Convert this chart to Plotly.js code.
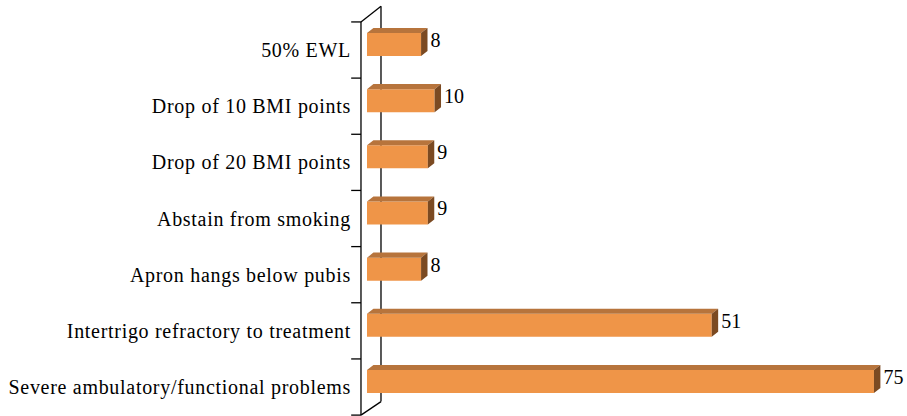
<!DOCTYPE html>
<html>
<head>
<meta charset="utf-8">
<script src="https://cdn.plot.ly/plotly-3.0.1.min.js"></script>
<style>html,body{margin:0;padding:0;background:#fff;}#chart{width:907px;height:416px;}
.ytick text{letter-spacing:0.7px;}</style>
</head>
<body>
<div id="chart"></div>
<script>
// Data (bottom to top)
const categories = [
  "Severe ambulatory/functional problems",
  "Intertrigo refractory to treatment",
  "Apron hangs below pubis",
  "Abstain from smoking",
  "Drop of 20 BMI points",
  "Drop of 10 BMI points",
  "50% EWL"
];
const values = [75, 51, 8, 9, 9, 10, 8];

// Styling / geometry
const FRONT = '#EF9548', TOP = '#B7743C', SIDE = '#7B4A22';
const FONT = 'Liberation Serif, Times New Roman, serif';
const BAR_W = 0.41, BAR_SHIFT = 0.098, DX = 0.95, DY = 0.09, LABEL_GAP = 0.45;
const XR = [-2.219, 79.59], YR = [-0.516, 6.855];

const idx = categories.map((_, i) => i);

const bars = {
  type: 'bar', orientation: 'h', x: values, y: idx,
  width: BAR_W, offset: -BAR_W / 2 + BAR_SHIFT,
  marker: {color: FRONT, line: {width: 0}},
  hoverinfo: 'skip', showlegend: false
};

const topX = [], topY = [], sideX = [], sideY = [];
values.forEach((v, i) => {
  const yb = i + BAR_SHIFT - BAR_W / 2, yt = i + BAR_SHIFT + BAR_W / 2;
  topX.push(0, v, v + DX, DX, 0, null);
  topY.push(yt, yt, yt + DY, yt + DY, yt, null);
  sideX.push(v, v, v + DX, v + DX, v, null);
  sideY.push(yb, yt, yt + DY, yb + DY, yb, null);
});

const topFaces = {type: 'scatter', mode: 'lines', x: topX, y: topY, fill: 'toself',
  fillcolor: TOP, line: {width: 0, color: TOP}, hoverinfo: 'skip', showlegend: false};
const sideFaces = {type: 'scatter', mode: 'lines', x: sideX, y: sideY, fill: 'toself',
  fillcolor: SIDE, line: {width: 0, color: SIDE}, hoverinfo: 'skip', showlegend: false};

const labels = {
  type: 'scatter', mode: 'text',
  x: values.map(v => v + DX + LABEL_GAP), y: idx.map(i => i + BAR_SHIFT + DY / 2),
  text: values.map(String), textposition: 'middle right',
  textfont: {family: FONT, size: 20, color: '#000'},
  cliponaxis: false, hoverinfo: 'skip', showlegend: false
};

// convert data coordinates to paper coordinates (for wall decoration)
const px = v => (v - XR[0]) / (XR[1] - XR[0]);
const py = v => (v - YR[0]) / (YR[1] - YR[0]);
const line = (x0, y0, x1, y1, layer) => ({type: 'line', xref: 'paper', yref: 'paper',
  x0: px(x0), y0: py(y0), x1: px(x1), y1: py(y1), layer: layer || 'above',
  line: {color: '#000', width: 1.3}});

const FW = -0.89, BW = 2.07;
const shapes = [
  line(FW, -0.5, FW, categories.length - 0.5),
  line(BW, -0.26, BW, categories.length - 0.5 + 0.28, 'below'),
  line(FW, categories.length - 0.5, BW, categories.length - 0.5 + 0.28),
  line(FW, -0.5, BW, -0.26)
];
for (let k = 0; k <= categories.length; k++) {
  shapes.push(line(FW - 1.45, k - 0.5, FW, k - 0.5));
}

const layout = {
  width: 907, height: 416,
  margin: {l: 352, r: 2, t: 2, b: 0},
  paper_bgcolor: '#fff', plot_bgcolor: '#fff',
  xaxis: {range: XR, visible: false, fixedrange: true},
  yaxis: {range: YR, tickvals: idx, ticktext: categories, ticks: '',
    showgrid: false, zeroline: false, showline: false,
    tickfont: {family: FONT, size: 20, color: '#000'}, fixedrange: true},
  shapes: shapes,
  showlegend: false
};

Plotly.newPlot('chart', [bars, topFaces, sideFaces, labels], layout, {displayModeBar: false, staticPlot: true});
</script>
</body>
</html>
